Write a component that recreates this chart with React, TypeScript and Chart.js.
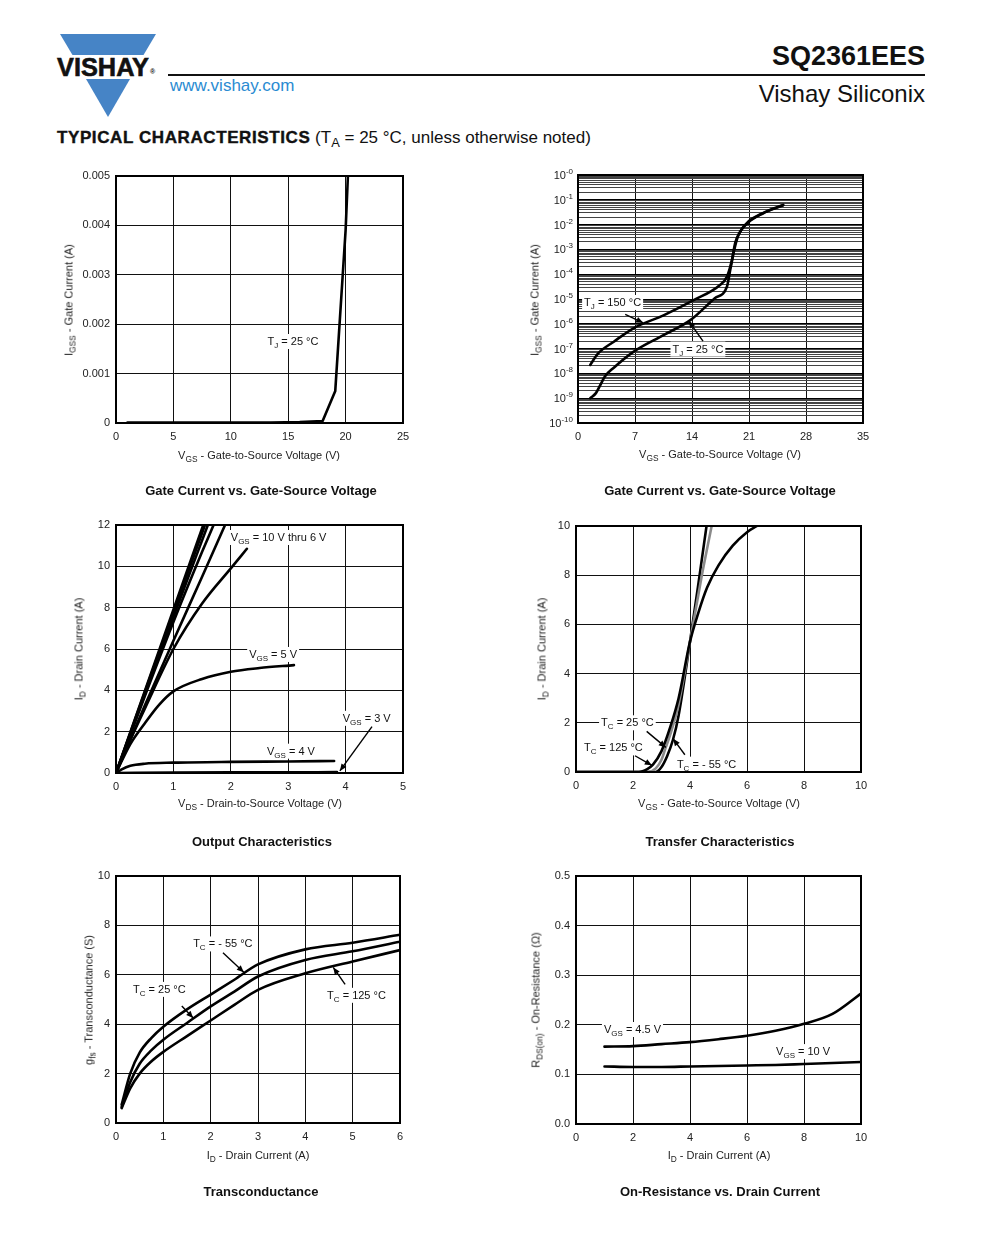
import React, { useEffect, useRef } from 'react';
import { Chart, registerables } from 'chart.js';

Chart.register(...registerables);

const FONT = '"Liberation Sans", Arial, Helvetica, sans-serif';

// ---------- Chart 1: Gate Current vs. Gate-Source Voltage (linear) ----------
const g1XTicks = [0, 5, 10, 15, 20, 25];
const g1YTicks = [0, 0.001, 0.002, 0.003, 0.004, 0.005];
const g1Vgs = [1, 5, 10, 13.5, 16, 18, 19.1, 20, 20.2];
const g1Igss25 = [0.00001, 0.00001, 0.00001, 0.00001, 0.00002, 0.00004, 0.00065, 0.0039, 0.005];

// ---------- Chart 2: Gate Current vs. Gate-Source Voltage (log) ----------
const g2XTicks = [0, 7, 14, 21, 28, 35];
const g2YDecades = [0, -1, -2, -3, -4, -5, -6, -7, -8, -9, -10];
const g2Vgs150 = [1.5, 2.5, 4.4, 6.8, 10.5, 14.2, 17.4, 18.3, 18.9, 19.3, 19.9, 20.9, 22.7, 25.2];
const g2Igss150 = [2.2e-8, 6.5e-8, 1.9e-7, 6.6e-7, 2.2e-6, 9e-6, 3.6e-5, 8e-5, 3.7e-4, 1.8e-3, 5.1e-3, 1.3e-2, 2.9e-2, 6.2e-2];
const g2Vgs25 = [1.5, 2.2, 2.7, 3.3, 4.4, 6.8, 10.5, 13.8, 16.8, 18.3, 18.7, 19.2, 19.7, 20.9, 22.7, 25.2];
const g2Igss25 = [1e-9, 1.6e-9, 3.2e-9, 7.5e-9, 1.7e-8, 7.4e-8, 3.5e-7, 1.4e-6, 1.07e-5, 3.2e-5, 1.5e-4, 1e-3, 3.8e-3, 1.2e-2, 2.8e-2, 6e-2];

// ---------- Chart 3: Output Characteristics ----------
const o3XTicks = [0, 1, 2, 3, 4, 5];
const o3YTicks = [0, 2, 4, 6, 8, 10, 12];
const o3Vds10 = [0, 0.5, 1, 1.52];
const o3Id10 = [0, 3.95, 7.9, 12];
const o3Vds9 = [0, 0.5, 1, 1.55];
const o3Id9 = [0, 3.9, 7.75, 12];
const o3Vds8 = [0, 0.5, 1, 1.6];
const o3Id8 = [0, 3.8, 7.55, 12];
const o3Vds7 = [0, 0.5, 1, 1.5, 1.7];
const o3Id7 = [0, 3.7, 7.3, 10.7, 12];
const o3Vds6 = [0, 0.5, 1, 1.5, 1.9];
const o3Id6 = [0, 3.25, 6.4, 9.5, 12];
const o3Vds6b = [0, 0.25, 0.5, 1, 1.5, 2, 2.28];
const o3Id6b = [0, 1.6, 3.1, 6.0, 8.2, 9.9, 10.85];
const o3Vds5 = [0, 0.25, 0.5, 0.75, 1, 1.5, 2, 2.5, 3.1];
const o3Id5 = [0, 1.4, 2.4, 3.3, 3.95, 4.55, 4.9, 5.08, 5.22];
const o3Vds4 = [0, 0.1, 0.25, 0.5, 1, 2, 3, 3.8];
const o3Id4 = [0, 0.18, 0.35, 0.45, 0.5, 0.54, 0.56, 0.58];
const o3Vds3 = [0, 1, 2, 3, 3.85];
const o3Id3 = [0, 0.02, 0.03, 0.035, 0.04];

// ---------- Chart 4: Transfer Characteristics ----------
const t4XTicks = [0, 2, 4, 6, 8, 10];
const t4YTicks = [0, 2, 4, 6, 8, 10];
const t4Vgs125 = [0, 2.2, 2.5, 2.7, 3.0, 3.3, 3.6, 4.0, 4.3, 4.6, 5.0, 5.5, 6.0, 6.35];
const t4Id125 = [0, 0, 0.12, 0.3, 0.85, 1.8, 3.0, 5.3, 6.5, 7.5, 8.4, 9.2, 9.75, 10];
const t4Vgs25 = [0, 2.5, 2.8, 3.0, 3.12, 3.3, 3.6, 4.0, 4.4, 4.76];
const t4Id25 = [0, 0, 0.15, 0.5, 0.9, 1.5, 2.75, 5.3, 7.9, 10];
const t4VgsM55 = [0, 2.8, 3.0, 3.2, 3.4, 3.6, 4.0, 4.3, 4.58];
const t4IdM55 = [0, 0, 0.2, 0.65, 1.3, 2.3, 5.3, 7.7, 10];

// ---------- Chart 5: Transconductance ----------
const f5XTicks = [0, 1, 2, 3, 4, 5, 6];
const f5YTicks = [0, 2, 4, 6, 8, 10];
const f5Id = [0.12, 0.3, 0.5, 0.75, 1, 1.5, 2, 2.5, 3, 4, 5, 6];
const f5GfsM55 = [0.75, 2.0, 2.85, 3.45, 3.9, 4.6, 5.2, 5.8, 6.42, 7.03, 7.3, 7.62];
const f5Gfs25 = [0.65, 1.65, 2.4, 2.95, 3.37, 4.05, 4.72, 5.32, 5.93, 6.6, 6.95, 7.34];
const f5Gfs125 = [0.6, 1.4, 2.0, 2.5, 2.88, 3.52, 4.15, 4.78, 5.39, 6.06, 6.54, 7.0];

// ---------- Chart 6: On-Resistance vs. Drain Current ----------
const r6XTicks = [0, 2, 4, 6, 8, 10];
const r6YTicks = [0, 0.1, 0.2, 0.3, 0.4, 0.5];
const r6Id = [1, 2, 3, 4, 5, 6, 7, 8, 9, 10];
const r6Rds45 = [0.156, 0.157, 0.161, 0.165, 0.171, 0.178, 0.188, 0.202, 0.222, 0.263];
const r6Rds10 = [0.116, 0.115, 0.115, 0.116, 0.117, 0.118, 0.119, 0.121, 0.123, 0.125];

// ---------- layout ----------
const PADL = 70, PADT = 14, PADR = 24, PADB = 34;
type Box = { left: number; top: number; w: number; h: number };
const boxes: Record<string, Box> = {
  c1: { left: 116, top: 176, w: 287, h: 247 },
  c2: { left: 578, top: 175, w: 285, h: 248 },
  c3: { left: 116, top: 525, w: 287, h: 248 },
  c4: { left: 576, top: 526, w: 285, h: 246 },
  c5: { left: 116, top: 876, w: 284, h: 247 },
  c6: { left: 576, top: 876, w: 285, h: 248 },
};

type Part = [string, boolean?];
type Note = { x: number; y: number; parts: Part[] };
type Arrow = { from: [number, number]; to: [number, number] };
type Series = { xs: number[]; ys: number[]; color?: string; width?: number; smooth?: boolean };

function drawRich(ctx: CanvasRenderingContext2D, x: number, y: number, parts: Part[], bg: boolean) {
  const size = 11, sub = 8;
  let w = 0;
  const ws = parts.map(([t, s]) => {
    ctx.font = `${s ? sub : size}px ${FONT}`;
    const m = ctx.measureText(t).width;
    w += m;
    return m;
  });
  if (bg) {
    ctx.fillStyle = '#fff';
    ctx.fillRect(x - 2, y - 7, w + 4, 15);
  }
  ctx.fillStyle = '#111';
  ctx.textBaseline = 'alphabetic';
  ctx.textAlign = 'left';
  let cx = x;
  const base = y + 4;
  parts.forEach(([t, s], i) => {
    ctx.font = `${s ? sub : size}px ${FONT}`;
    ctx.fillText(t, cx, s ? base + 3 : base);
    cx += ws[i];
  });
}

function extras(notes: Note[], arrows: Arrow[], logDecades?: number[]) {
  return {
    id: 'extras',
    afterDatasetsDraw(chart: any) {
      const { ctx, chartArea: a, scales } = chart;
      const xs = scales.x, ys = scales.y;
      ctx.save();
      for (const n of notes) {
        drawRich(ctx, xs.getPixelForValue(n.x), ys.getPixelForValue(n.y), n.parts, true);
      }
      ctx.strokeStyle = '#000';
      ctx.lineWidth = 2;
      ctx.strokeRect(a.left, a.top, a.right - a.left, a.bottom - a.top);
      for (const ar of arrows) {
        const x1 = xs.getPixelForValue(ar.from[0]), y1 = ys.getPixelForValue(ar.from[1]);
        const x2 = xs.getPixelForValue(ar.to[0]), y2 = ys.getPixelForValue(ar.to[1]);
        ctx.strokeStyle = '#000';
        ctx.lineWidth = 1.4;
        ctx.beginPath();
        ctx.moveTo(x1, y1);
        ctx.lineTo(x2, y2);
        ctx.stroke();
        const ang = Math.atan2(y2 - y1, x2 - x1);
        const L = 7, Wd = 3;
        ctx.beginPath();
        ctx.moveTo(x2, y2);
        ctx.lineTo(x2 - L * Math.cos(ang) + Wd * Math.sin(ang), y2 - L * Math.sin(ang) - Wd * Math.cos(ang));
        ctx.lineTo(x2 - L * Math.cos(ang) - Wd * Math.sin(ang), y2 - L * Math.sin(ang) + Wd * Math.cos(ang));
        ctx.closePath();
        ctx.fillStyle = '#000';
        ctx.fill();
      }
      if (logDecades) {
        for (const d of logDecades) {
          const y = ys.getPixelForValue(Math.pow(10, d));
          ctx.font = `11px ${FONT}`;
          const w1 = ctx.measureText('10').width;
          ctx.font = `8px ${FONT}`;
          const sup = d === 0 ? '-0' : String(d);
          const w2 = ctx.measureText(sup).width;
          const x0 = a.left - 5 - w1 - w2;
          ctx.fillStyle = '#222';
          ctx.textBaseline = 'alphabetic';
          ctx.textAlign = 'left';
          ctx.font = `11px ${FONT}`;
          ctx.fillText('10', x0, y + 4);
          ctx.font = `8px ${FONT}`;
          ctx.fillText(sup, x0 + w1, y - 1);
        }
      }
      ctx.restore();
    },
  };
}

function buildConfig(p: {
  series: Series[];
  xTicks: number[];
  yTicks?: number[];
  logDecades?: number[];
  xFmt?: (v: number) => string;
  yFmt?: (v: number) => string;
  notes: Note[];
  arrows: Arrow[];
}) {
  const tickFont = { family: FONT, size: 11 };
  const datasets = p.series.map((s) => ({
    data: s.xs.map((x, i) => ({ x, y: s.ys[i] })),
    borderColor: s.color || '#000',
    borderWidth: s.width || 2.6,
    pointRadius: 0,
    fill: false,
    cubicInterpolationMode: s.smooth === false ? 'default' : 'monotone',
    tension: s.smooth === false ? 0 : 0.4,
    borderCapStyle: 'round',
    borderJoinStyle: 'round',
  }));
  const xScale: any = {
    type: 'linear',
    min: p.xTicks[0],
    max: p.xTicks[p.xTicks.length - 1],
    afterBuildTicks: (s: any) => {
      s.ticks = p.xTicks.map((v) => ({ value: v }));
    },
    afterFit: (s: any) => {
      s.height = PADB;
    },
    ticks: {
      color: '#222',
      font: tickFont,
      padding: 7,
      maxRotation: 0,
      autoSkip: false,
      callback: (v: any) => (p.xFmt ? p.xFmt(Number(v)) : String(Number(v))),
    },
    grid: { color: '#111', lineWidth: 1, drawTicks: false },
    border: { display: false },
  };
  let yScale: any;
  if (p.logDecades) {
    const minor: number[] = [];
    for (let d = -10; d <= 0; d++) {
      for (let m = 1; m <= 9; m++) {
        const v = m * Math.pow(10, d);
        if (v <= 1.0000001) minor.push(v);
      }
    }
    yScale = {
      type: 'logarithmic',
      min: 1e-10,
      max: 1,
      afterBuildTicks: (s: any) => {
        s.ticks = minor.map((v) => ({ value: v }));
      },
      afterFit: (s: any) => {
        s.width = PADL;
      },
      ticks: { display: false, autoSkip: false },
      grid: {
        drawTicks: false,
        color: (c: any) => {
          const v = c.tick ? c.tick.value : 1;
          const l = Math.log10(v);
          return Math.abs(l - Math.round(l)) < 1e-6 ? '#000' : '#444';
        },
        lineWidth: 1,
      },
      border: { display: false },
    };
  } else {
    const yt = p.yTicks || [];
    yScale = {
      type: 'linear',
      min: yt[0],
      max: yt[yt.length - 1],
      afterBuildTicks: (s: any) => {
        s.ticks = yt.map((v) => ({ value: v }));
      },
      afterFit: (s: any) => {
        s.width = PADL;
      },
      ticks: {
        color: '#222',
        font: tickFont,
        padding: 6,
        autoSkip: false,
        callback: (v: any) => (p.yFmt ? p.yFmt(Number(v)) : String(Number(v))),
      },
      grid: { color: '#111', lineWidth: 1, drawTicks: false },
      border: { display: false },
    };
  }
  return {
    type: 'line' as const,
    data: { datasets },
    options: {
      responsive: false,
      animation: false,
      devicePixelRatio: 1,
      layout: { padding: { left: 0, top: PADT, right: PADR, bottom: 0 } },
      plugins: { legend: { display: false }, tooltip: { enabled: false } },
      scales: { x: xScale, y: yScale },
    },
    plugins: [extras(p.notes, p.arrows, p.logDecades)],
  };
}

function Panel({ box, build }: { box: Box; build: () => any }) {
  const ref = useRef<HTMLCanvasElement>(null);
  useEffect(() => {
    const chart = new Chart(ref.current as HTMLCanvasElement, build());
    return () => chart.destroy();
  }, []);
  const W = PADL + box.w + PADR;
  const H = PADT + box.h + PADB;
  return (
    <canvas
      ref={ref}
      width={W}
      height={H}
      style={{ position: 'absolute', left: box.left - PADL, top: box.top - PADT, width: W, height: H }}
    />
  );
}

const Sub = ({ children }: { children: React.ReactNode }) => (
  <span style={{ fontSize: '0.76em', position: 'relative', top: '0.32em' }}>{children}</span>
);

const XTitle = ({ cx, cy, children }: { cx: number; cy: number; children: React.ReactNode }) => (
  <div
    style={{
      position: 'absolute', left: cx, top: cy, transform: 'translate(-50%,-50%)',
      whiteSpace: 'nowrap', font: `11px ${FONT}`, color: '#222', lineHeight: 1,
    }}
  >
    {children}
  </div>
);

const YTitle = ({ cx, cy, children }: { cx: number; cy: number; children: React.ReactNode }) => (
  <div
    style={{
      position: 'absolute', left: cx, top: cy, transform: 'translate(-50%,-50%) rotate(-90deg)',
      whiteSpace: 'nowrap', font: `11px ${FONT}`, color: '#222', lineHeight: 1,
    }}
  >
    {children}
  </div>
);

const CTitle = ({ cx, cy, children }: { cx: number; cy: number; children: React.ReactNode }) => (
  <div
    style={{
      position: 'absolute', left: cx, top: cy, transform: 'translate(-50%,-50%)',
      whiteSpace: 'nowrap', font: `bold 13px ${FONT}`, color: '#111', lineHeight: 1,
    }}
  >
    {children}
  </div>
);

const fmtInt = (v: number) => String(Math.round(v));
const fmt3 = (v: number) => (Math.abs(v) < 1e-12 ? '0' : v.toFixed(3));
const fmt1 = (v: number) => v.toFixed(1);

const TJ25: Part[] = [['T'], ['J', true], [' = 25 °C']];

export default function App() {
  const b = boxes;
  return (
    <div style={{ position: 'absolute', left: 0, top: 0, width: 1000, height: 1250, background: '#fff', fontFamily: FONT }}>
      {/* Logo */}
      <svg style={{ position: 'absolute', left: 55, top: 30 }} width={110} height={92}>
        <polygon points="5,4 101,4 88.5,25 17.5,25" fill="#4684c6" />
        <polygon points="31,49 75,49 53,87" fill="#4684c6" />
        <text x={2} y={46} fontFamily={FONT} fontWeight="bold" fontSize={26} fill="#111" stroke="#111" strokeWidth={0.6} textLength={92} lengthAdjust="spacingAndGlyphs">VISHAY</text>
        <text x={95} y={44} fontFamily={FONT} fontWeight="bold" fontSize={7} fill="#111">®</text>
      </svg>
      <div style={{ position: 'absolute', left: 170, top: 77, font: `17px ${FONT}`, lineHeight: 1, color: '#2a8bd2', whiteSpace: 'nowrap' }}>www.vishay.com</div>
      <div style={{ position: 'absolute', left: 168, top: 74, width: 757, height: 2, background: '#111' }} />
      <div style={{ position: 'absolute', right: 75, top: 43, font: `bold 27px ${FONT}`, lineHeight: 1, color: '#111', whiteSpace: 'nowrap' }}>SQ2361EES</div>
      <div style={{ position: 'absolute', right: 75, top: 82, font: `24px ${FONT}`, lineHeight: 1, color: '#111', whiteSpace: 'nowrap' }}>Vishay Siliconix</div>
      <div style={{ position: 'absolute', left: 57, top: 128.5, font: `17px ${FONT}`, lineHeight: 1, color: '#111', whiteSpace: 'nowrap' }}>
        <span style={{ fontWeight: 'bold', letterSpacing: 0.6, WebkitTextStroke: '0.4px #111' }}>TYPICAL CHARACTERISTICS</span> (T<Sub>A</Sub> = 25 °C, unless otherwise noted)
      </div>

      {/* Chart 1 */}
      <Panel
        box={b.c1}
        build={() =>
          buildConfig({
            series: [{ xs: g1Vgs, ys: g1Igss25, smooth: false }],
            xTicks: g1XTicks,
            yTicks: g1YTicks,
            xFmt: fmtInt,
            yFmt: fmt3,
            notes: [{ x: 13.2, y: 0.00166, parts: TJ25 }],
            arrows: [],
          })
        }
      />
      <YTitle cx={69} cy={300}>I<Sub>GSS</Sub> - Gate Current (A)</YTitle>
      <XTitle cx={259} cy={455}>V<Sub>GS</Sub> - Gate-to-Source Voltage (V)</XTitle>
      <CTitle cx={261} cy={490}>Gate Current vs. Gate-Source Voltage</CTitle>

      {/* Chart 2 */}
      <Panel
        box={b.c2}
        build={() =>
          buildConfig({
            series: [
              { xs: g2Vgs150, ys: g2Igss150 },
              { xs: g2Vgs25, ys: g2Igss25 },
            ],
            xTicks: g2XTicks,
            logDecades: g2YDecades,
            xFmt: fmtInt,
            notes: [
              { x: 0.75, y: 7.6e-6, parts: [['T'], ['J', true], [' = 150 °C']] },
              { x: 11.6, y: 1e-7, parts: TJ25 },
            ],
            arrows: [
              { from: [5.8, 2.4e-6], to: [8.0, 1.1e-6] },
              { from: [15.35, 2.0e-7], to: [13.6, 1.3e-6] },
            ],
          })
        }
      />
      <YTitle cx={535} cy={300}>I<Sub>GSS</Sub> - Gate Current (A)</YTitle>
      <XTitle cx={720} cy={454}>V<Sub>GS</Sub> - Gate-to-Source Voltage (V)</XTitle>
      <CTitle cx={720} cy={490}>Gate Current vs. Gate-Source Voltage</CTitle>

      {/* Chart 3 */}
      <Panel
        box={b.c3}
        build={() =>
          buildConfig({
            series: [
              { xs: o3Vds10, ys: o3Id10 },
              { xs: o3Vds9, ys: o3Id9 },
              { xs: o3Vds8, ys: o3Id8 },
              { xs: o3Vds7, ys: o3Id7 },
              { xs: o3Vds6, ys: o3Id6 },
              { xs: o3Vds6b, ys: o3Id6b },
              { xs: o3Vds5, ys: o3Id5 },
              { xs: o3Vds4, ys: o3Id4 },
              { xs: o3Vds3, ys: o3Id3 },
            ],
            xTicks: o3XTicks,
            yTicks: o3YTicks,
            xFmt: fmtInt,
            yFmt: fmtInt,
            notes: [
              { x: 2.0, y: 11.42, parts: [['V'], ['GS', true], [' = 10 V thru 6 V']] },
              { x: 2.32, y: 5.76, parts: [['V'], ['GS', true], [' = 5 V']] },
              { x: 3.95, y: 2.67, parts: [['V'], ['GS', true], [' = 3 V']] },
              { x: 2.63, y: 1.08, parts: [['V'], ['GS', true], [' = 4 V']] },
            ],
            arrows: [{ from: [4.46, 2.24], to: [3.9, 0.1] }],
          })
        }
      />
      <YTitle cx={79} cy={649}>I<Sub>D</Sub> - Drain Current (A)</YTitle>
      <XTitle cx={260} cy={803}>V<Sub>DS</Sub> - Drain-to-Source Voltage (V)</XTitle>
      <CTitle cx={262} cy={841}>Output Characteristics</CTitle>

      {/* Chart 4 */}
      <Panel
        box={b.c4}
        build={() =>
          buildConfig({
            series: [
              { xs: t4Vgs125, ys: t4Id125 },
              { xs: t4Vgs25, ys: t4Id25, color: '#8a8a8a' },
              { xs: t4VgsM55, ys: t4IdM55 },
            ],
            xTicks: t4XTicks,
            yTicks: t4YTicks,
            xFmt: fmtInt,
            yFmt: fmtInt,
            notes: [
              { x: 0.88, y: 2.02, parts: [['T'], ['C', true], [' = 25 °C']] },
              { x: 0.28, y: 1.0, parts: [['T'], ['C', true], [' = 125 °C']] },
              { x: 3.54, y: 0.34, parts: [['T'], ['C', true], [' = - 55 °C']] },
            ],
            arrows: [
              { from: [2.48, 1.65], to: [3.15, 1.0] },
              { from: [3.82, 0.7], to: [3.41, 1.35] },
              { from: [2.07, 0.66], to: [2.66, 0.27] },
            ],
          })
        }
      />
      <YTitle cx={542} cy={649}>I<Sub>D</Sub> - Drain Current (A)</YTitle>
      <XTitle cx={719} cy={803}>V<Sub>GS</Sub> - Gate-to-Source Voltage (V)</XTitle>
      <CTitle cx={720} cy={841}>Transfer Characteristics</CTitle>

      {/* Chart 5 */}
      <Panel
        box={b.c5}
        build={() =>
          buildConfig({
            series: [
              { xs: f5Id, ys: f5GfsM55 },
              { xs: f5Id, ys: f5Gfs25 },
              { xs: f5Id, ys: f5Gfs125 },
            ],
            xTicks: f5XTicks,
            yTicks: f5YTicks,
            xFmt: fmtInt,
            yFmt: fmtInt,
            notes: [
              { x: 1.63, y: 7.27, parts: [['T'], ['C', true], [' = - 55 °C']] },
              { x: 0.36, y: 5.43, parts: [['T'], ['C', true], [' = 25 °C']] },
              { x: 4.46, y: 5.19, parts: [['T'], ['C', true], [' = 125 °C']] },
            ],
            arrows: [
              { from: [2.26, 6.89], to: [2.7, 6.1] },
              { from: [1.39, 4.74], to: [1.63, 4.25] },
              { from: [4.84, 5.61], to: [4.59, 6.3] },
            ],
          })
        }
      />
      <YTitle cx={89} cy={1000}>g<Sub>fs</Sub> - Transconductance (S)</YTitle>
      <XTitle cx={258} cy={1155}>I<Sub>D</Sub> - Drain Current (A)</XTitle>
      <CTitle cx={261} cy={1191}>Transconductance</CTitle>

      {/* Chart 6 */}
      <Panel
        box={b.c6}
        build={() =>
          buildConfig({
            series: [
              { xs: r6Id, ys: r6Rds45 },
              { xs: r6Id, ys: r6Rds10 },
            ],
            xTicks: r6XTicks,
            yTicks: r6YTicks,
            xFmt: fmtInt,
            yFmt: fmt1,
            notes: [
              { x: 0.98, y: 0.1915, parts: [['V'], ['GS', true], [' = 4.5 V']] },
              { x: 7.02, y: 0.147, parts: [['V'], ['GS', true], [' = 10 V']] },
            ],
            arrows: [],
          })
        }
      />
      <YTitle cx={536} cy={1000}>R<Sub>DS(on)</Sub> - On-Resistance (Ω)</YTitle>
      <XTitle cx={719} cy={1155}>I<Sub>D</Sub> - Drain Current (A)</XTitle>
      <CTitle cx={720} cy={1191}>On-Resistance vs. Drain Current</CTitle>
    </div>
  );
}
